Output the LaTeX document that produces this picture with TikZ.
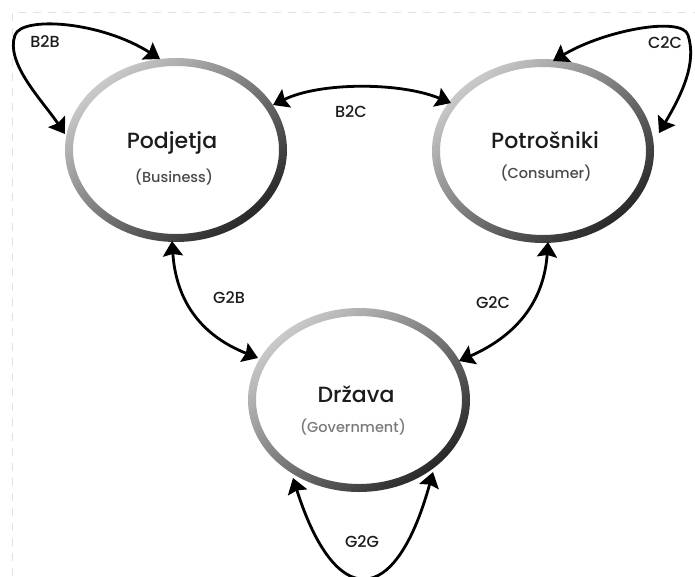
\documentclass[tikz,border=0pt]{standalone}
\usepackage{fontspec}
\setmainfont{Poppins}[UprightFont=* Medium]
\usetikzlibrary{arrows.meta,shapes.geometric}
\definecolor{ttl}{HTML}{1C1C1C}
\definecolor{subc}{HTML}{4A4A4A}
\definecolor{subl}{HTML}{7A7A7A}
\definecolor{ringlight}{HTML}{CACACA}
\definecolor{ringdark}{HTML}{282828}
\definecolor{frame}{HTML}{E2E2E2}
\tikzset{
  ringnode/.style={ellipse, minimum width=222pt, minimum height=184pt, inner sep=0pt},
  titletext/.style={anchor=base, text=ttl, font=\fontsize{22}{26}\selectfont},
  subtext/.style={anchor=base, text=subc, font=\fontsize{14.5}{17}\selectfont},
  edgelabel/.style={anchor=base, text=ttl, font=\fontsize{16}{18}\selectfont},
  flow/.style={line width=2.8pt, black, {Stealth[length=15pt,width=20pt,inset=2pt]}-{Stealth[length=15pt,width=20pt,inset=2pt]}},
  framedash/.style={frame, line width=1pt, dash pattern=on 8pt off 7pt}
}
\newcommand{\ringat}[1]{%
  \shade[even odd rule, top color=ringlight, bottom color=ringdark, shading angle=40]
    (#1) ellipse [x radius=111pt, y radius=92pt]
    (#1) ellipse [x radius=103pt, y radius=84pt];
}
\begin{document}
\begin{tikzpicture}[x=1pt,y=-1pt]
\useasboundingbox (0,0) rectangle (695,576);
\fill[white] (0,0) rectangle (695,576);
% frame
\coordinate (f1) at (12,12);
\coordinate (f2) at (695,12);
\coordinate (f3) at (12,576);
\draw[framedash] (f3) -- (f1) -- (f2);

% nodes
\node[ringnode] (B) at (176,150) {};
\node[ringnode] (C) at (543,151) {};
\node[ringnode] (G) at (359,400) {};
\ringat{B}
\ringat{C}
\ringat{G}

\node[titletext] (Bt) at (172,148) {Podjetja};
\node[subtext] (Bs) at (174,182) {(Business)};
\node[titletext] (Ct) at (545,148) {Potrošniki};
\node[subtext] (Cs) at (546,178) {(Consumer)};
\node[titletext] (Gt) at (356,402) {Država};
\node[subtext, text=subl] (Gs) at (353,432) {(Government)};

% arrow endpoints
\coordinate (b2bA) at (160,59);
\coordinate (b2bB) at (65,134);
\coordinate (b2bM) at (15,35);
\coordinate (b2cA) at (273,105);
\coordinate (b2cB) at (451,103);
\coordinate (c2cA) at (553,61);
\coordinate (c2cM) at (688,35);
\coordinate (c2cB) at (659,133);
\coordinate (g2bA) at (172,241);
\coordinate (g2bB) at (258,358);
\coordinate (g2cA) at (548,242);
\coordinate (g2cB) at (459,361);
\coordinate (g2gA) at (293,478);
\coordinate (g2gB) at (433,472);

\draw[flow] (b2bB) .. controls (42,100) and (5,63) .. (b2bM)
            .. controls (22,16) and (100,21) .. (b2bA);
\draw[flow] (b2cA) .. controls (320,82) and (400,82) .. (b2cB);
\draw[flow] (c2cA) .. controls (605,30) and (682,16) .. (c2cM)
            .. controls (697,63) and (682,94) .. (c2cB);
\draw[flow] (g2bA) .. controls (176,300) and (200,335) .. (g2bB);
\draw[flow] (g2cA) .. controls (544,300) and (518,335) .. (g2cB);
\draw[flow] (g2gA) .. controls (335,610) and (395,610) .. (g2gB);

% labels
\node[edgelabel] (l1) at (45,47) {B2B};
\node[edgelabel] (l2) at (351,117) {B2C};
\node[edgelabel] (l3) at (665,48) {C2C};
\node[edgelabel] (l4) at (229,303) {G2B};
\node[edgelabel] (l5) at (493,308) {G2C};
\node[edgelabel] (l6) at (362,547) {G2G};
\end{tikzpicture}
\end{document}
